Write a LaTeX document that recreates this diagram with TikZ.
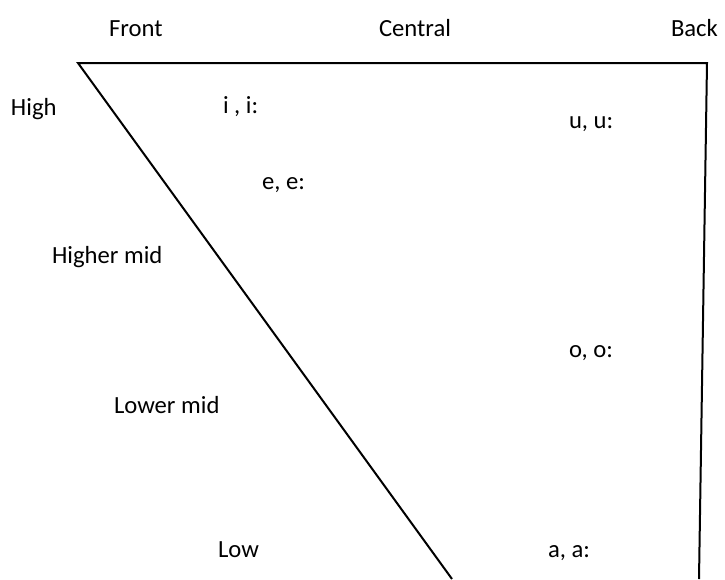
\documentclass[tikz,border=0pt]{standalone}
\usepackage{fontspec}
\setmainfont{Carlito}
\usepackage{tikz}
\usetikzlibrary{positioning}

\begin{document}
\begin{tikzpicture}[x=0.75pt, y=-0.75pt, line width=1.5pt,
    lbl/.style={anchor=base west, inner sep=0pt, font=\fontsize{18.5}{22}\selectfont}]
        \useasboundingbox (0,0) rectangle (725,579);

        % Vowel chart corners
        \coordinate (topleft) at (78,63);
        \coordinate (topright) at (707,63);
        \coordinate (bottomleft) at (452,579);
        \coordinate (bottomright) at (699,579);

        % Outline
        \draw (bottomleft) -- (topleft) -- (topright) -- (bottomright);

        % Column headings
        \node (front) [lbl] at (108,36) {Front};
        \node (central) [lbl] at (378,36) {Central};
        \node (back) [lbl] at (670,36) {Back};

        % Row headings
        \node (high) [lbl] at (10,115) {High};
        \node (highermid) [lbl] at (51,263) {Higher mid};
        \node (lowermid) [lbl] at (113,413) {Lower mid};
        \node (low) [lbl] at (217,557) {Low};

        % Vowels
        \node (ivowel) [lbl] at (222,113) {i , i:};
        \node (uvowel) [lbl] at (568,128) {u, u:};
        \node (evowel) [lbl] at (261,189) {e, e:};
        \node (ovowel) [lbl] at (568,357) {o, o:};
        \node (avowel) [lbl] at (547,557) {a, a:};
    \end{tikzpicture}
\end{document}
